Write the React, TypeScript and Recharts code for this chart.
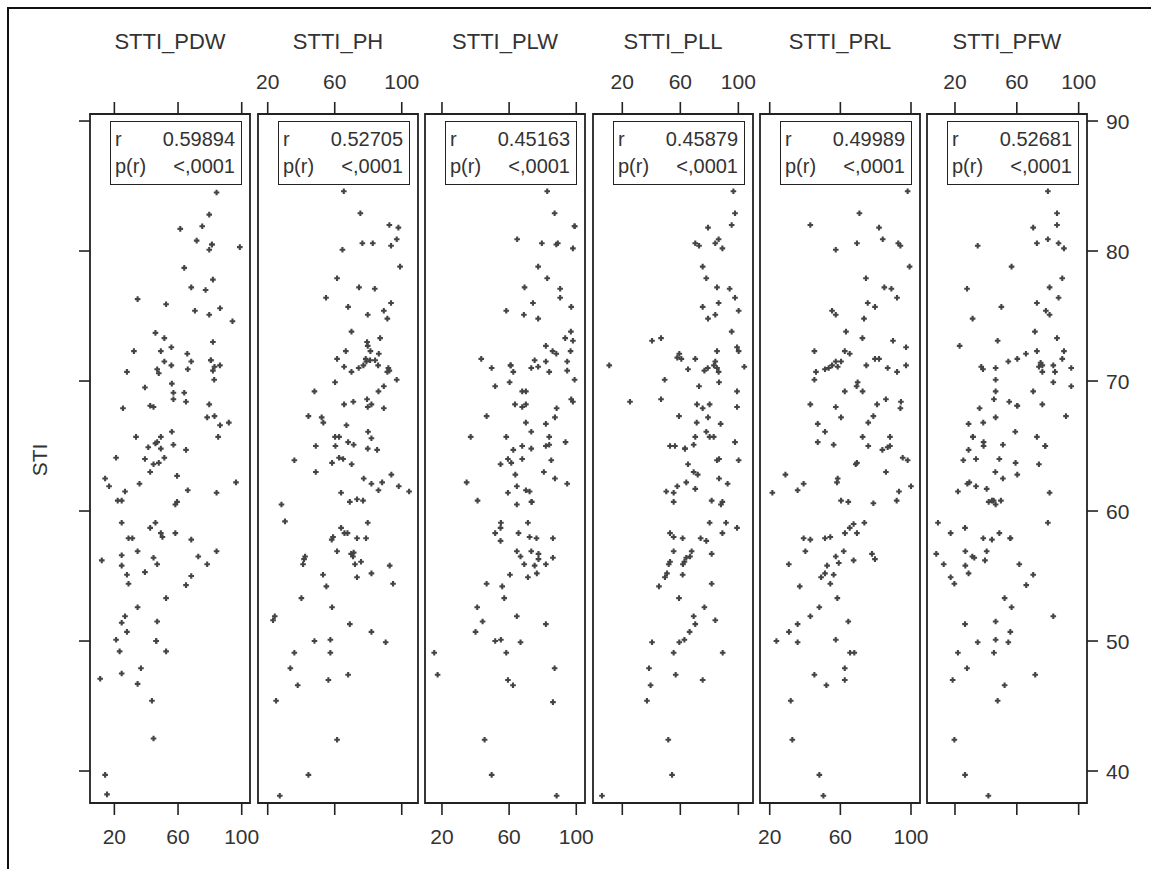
import { ScatterChart, Scatter, XAxis, YAxis, ReferenceArea } from "recharts";

const FONT = '"Liberation Sans", Arial, sans-serif';
const INK = "#222";
const TXT = "#333";

const titles = ["STTI_PDW", "STTI_PH", "STTI_PLW", "STTI_PLL", "STTI_PRL", "STTI_PFW"];
const rValues = ["0.59894", "0.52705", "0.45163", "0.45879", "0.49989", "0.52681"];
const pValues = ["<,0001", "<,0001", "<,0001", "<,0001", "<,0001", "<,0001"];
const xTicks = [20, 60, 100];
const yTicks = [40, 50, 60, 70, 80, 90];
const xDomains: [number, number][] = [
  [4.7, 105.2], [14.2, 109.7], [9.9, 105.2], [-0.2, 110.1], [14.5, 105.1], [1.9, 105.4],
];
const yDomain: [number, number] = [37.54, 90.54];

// [x, STI]
const pdwPts: [number, number][] = [
  [84.2,84.5],[79.6,82.8],[61.4,81.7],[75.2,81.9],[71.7,80.8],[81.3,80.5],[81.3,80.5],[79.6,80.1],[98.8,80.3],[63.9,78.7],
  [81.9,77.8],[68.3,77.2],[77.3,77.0],[34.6,76.3],[52.5,75.9],[70.6,75.4],[79.6,75.1],[86.4,75.6],[94.2,74.6],[45.8,73.7],
  [51.4,73.3],[81.9,73.0],[32.3,72.3],[49.2,72.3],[55.8,72.6],[65.8,72.1],[51.4,71.5],[68.3,71.5],[80.6,71.6],[80.6,71.6],
  [55.8,71.2],[46.9,70.9],[47.9,70.6],[66.1,70.9],[81.9,70.8],[82.9,71.1],[86.3,71.2],[27.9,70.7],[82.7,70.1],[56.1,69.8],
  [39.2,69.5],[57.1,69.1],[63.9,69.1],[57.1,68.6],[65.0,68.4],[25.4,67.9],[42.5,68.1],[44.6,68.0],[79.6,68.2],[78.3,67.2],
  [82.9,67.3],[86.4,66.6],[91.9,66.8],[33.6,65.7],[49.2,65.7],[85.2,65.7],[56.1,66.1],[41.3,64.9],[45.8,65.2],[46.9,65.3],
  [49.2,64.8],[57.1,65.1],[65.0,64.7],[21.1,64.1],[39.2,64.0],[51.4,64.1],[44.6,63.6],[47.9,63.7],[42.5,63.0],[59.4,62.7],
  [14.2,62.5],[16.7,61.9],[35.8,62.1],[96.4,62.2],[26.7,61.5],[66.1,61.6],[84.2,61.4],[22.1,60.8],[24.6,60.8],[58.3,60.5],
  [59.4,60.7],[24.6,59.1],[42.5,58.7],[45.8,59.1],[49.2,58.3],[50.2,58.0],[58.3,58.3],[68.3,57.8],[28.9,57.9],[31.3,57.9],
  [34.6,56.9],[12.1,56.2],[24.6,56.6],[24.6,55.8],[44.6,56.4],[46.9,55.9],[72.7,56.5],[84.2,56.9],[78.3,55.9],[27.9,55.1],
  [28.9,54.4],[39.2,55.3],[68.3,55.0],[65.0,54.3],[52.5,53.3],[34.6,52.6],[26.7,51.9],[24.6,51.4],[27.9,50.7],[46.9,51.5],
  [21.1,50.1],[46.3,50.0],[46.3,50.0],[23.3,49.2],[52.5,49.2],[36.7,47.9],[24.6,47.5],[11.1,47.1],[34.6,46.7],[43.6,45.4],
  [44.6,42.5],[14.2,39.7],[15.4,38.2],
];

const phPts: [number, number][] = [
  [65.4,84.6],[75.3,82.9],[92.6,82.0],[98.0,81.8],[76.5,80.6],[82.7,80.6],[93.6,80.4],[97.0,80.9],[64.6,80.1],[99.0,78.8],
  [61.4,77.9],[74.5,77.2],[83.9,77.1],[54.8,76.4],[68.0,75.7],[93.6,76.0],[89.3,75.4],[79.7,75.1],[91.4,74.8],[70.0,73.8],
  [87.1,73.3],[79.3,73.0],[79.7,72.7],[81.3,72.3],[66.6,72.3],[61.4,71.7],[78.5,71.7],[86.3,72.1],[65.6,71.1],[70.0,70.7],
  [74.3,71.0],[77.1,71.2],[78.9,71.5],[81.1,71.6],[84.1,71.6],[85.9,71.2],[92.0,71.0],[92.6,70.8],[91.4,70.7],[97.0,70.1],
  [60.2,69.9],[47.9,69.2],[86.1,69.2],[89.3,69.6],[79.3,68.6],[81.9,68.2],[79.7,68.0],[71.1,68.4],[65.6,68.2],[89.3,67.9],
  [44.3,67.3],[52.2,67.2],[53.2,66.8],[67.0,66.6],[79.9,66.1],[81.9,65.6],[60.2,65.7],[62.6,65.7],[68.0,65.3],[71.3,65.1],
  [48.7,65.0],[60.4,65.0],[79.7,64.8],[85.3,64.7],[35.9,63.9],[58.4,63.7],[62.6,64.1],[65.0,64.0],[70.1,63.6],[48.7,63.0],
  [93.8,62.8],[77.3,62.5],[81.9,62.1],[88.3,62.2],[86.1,61.6],[98.2,61.9],[104.4,61.5],[63.8,61.4],[69.0,60.7],[73.3,60.9],
  [76.9,60.8],[28.2,60.5],[30.3,59.2],[79.7,59.1],[63.8,58.7],[65.8,58.3],[67.6,58.3],[59.0,58.0],[58.2,57.8],[73.3,57.9],
  [78.7,57.9],[61.4,56.9],[71.3,56.8],[69.8,56.7],[70.9,56.5],[72.1,55.9],[75.7,56.1],[42.3,56.5],[41.7,56.3],[41.1,55.9],
  [81.9,55.2],[92.8,55.8],[73.3,54.9],[53.0,55.1],[94.8,54.4],[55.0,54.2],[40.1,53.3],[58.4,52.6],[24.2,51.9],[23.2,51.6],
  [69.0,51.3],[81.9,50.7],[47.9,50.0],[57.4,50.1],[90.4,49.9],[35.9,49.1],[57.4,49.1],[33.5,47.9],[68.0,47.4],[37.9,46.6],
  [56.2,47.0],[25.0,45.4],[61.4,42.4],[44.3,39.7],[27.2,38.1],
];

const plwPts: [number, number][] = [
  [82.7,84.6],[87.1,82.9],[99.0,81.9],[99.0,81.9],[64.8,80.9],[79.5,80.6],[88.1,80.5],[89.0,80.6],[98.0,80.2],[77.3,78.8],
  [82.7,77.9],[69.2,77.2],[90.4,77.1],[74.2,76.0],[90.4,76.4],[97.0,75.7],[58.3,75.4],[68.8,75.1],[77.3,74.8],[96.8,73.8],
  [93.4,73.3],[98.0,73.1],[96.6,72.3],[81.9,72.7],[85.9,72.3],[88.1,72.1],[43.4,71.7],[49.6,71.0],[60.9,71.2],[60.9,71.2],
  [62.5,70.7],[75.2,71.6],[73.2,71.0],[77.3,71.1],[81.9,71.5],[83.9,70.7],[94.6,71.5],[94.6,70.8],[99.0,70.1],[51.7,69.6],
  [60.3,69.9],[67.8,69.2],[70.0,69.2],[63.5,68.2],[67.8,68.0],[70.0,68.2],[97.0,68.6],[98.0,68.4],[88.3,67.9],[46.6,67.3],
  [70.0,66.8],[73.2,66.1],[81.9,66.7],[87.3,67.2],[37.1,65.7],[58.3,65.7],[83.9,65.7],[62.5,64.7],[67.8,65.0],[73.2,64.8],
  [81.9,65.0],[83.9,65.1],[93.6,65.3],[54.9,63.6],[59.3,64.0],[61.3,63.7],[67.8,64.0],[85.1,63.9],[80.7,63.0],[63.7,62.8],
  [87.3,62.5],[94.6,62.1],[34.7,62.2],[41.2,60.8],[59.3,61.4],[64.6,61.9],[70.0,61.6],[72.2,61.5],[73.4,60.7],[73.4,60.7],
  [64.6,60.5],[55.1,59.1],[54.9,58.7],[51.7,58.3],[54.9,57.7],[65.6,58.3],[71.2,59.1],[72.2,58.0],[76.3,57.9],[86.1,57.9],
  [64.6,56.9],[66.8,56.5],[73.2,56.9],[77.5,56.7],[77.5,56.3],[69.0,55.9],[75.2,55.8],[76.5,55.2],[81.9,55.9],[86.1,56.4],
  [71.2,54.9],[60.5,55.1],[46.6,54.4],[55.9,54.2],[57.1,53.3],[41.0,52.6],[44.2,51.5],[40.0,50.7],[64.6,51.9],[81.9,51.3],
  [51.7,50.0],[55.1,50.1],[66.8,49.9],[58.3,49.1],[15.4,49.1],[17.4,47.4],[59.3,47.0],[62.3,46.6],[87.1,47.9],[86.1,45.3],
  [45.4,42.4],[49.6,39.7],[88.3,38.1],
];

const pllPts: [number, number][] = [
  [96.6,84.6],[97.7,82.9],[79.1,81.8],[95.4,82.0],[70.3,80.6],[72.9,80.4],[84.1,80.6],[86.4,80.9],[89.0,80.2],[75.4,78.8],
  [77.9,77.9],[85.3,77.2],[94.0,77.1],[86.4,76.0],[97.7,76.4],[75.4,75.7],[84.1,75.1],[79.1,74.8],[100.2,75.4],[95.4,73.8],
  [40.5,73.1],[46.7,73.3],[99.1,72.6],[100.2,72.3],[59.3,72.1],[60.7,71.7],[57.9,71.8],[70.3,71.7],[85.3,72.3],[84.1,71.5],
  [83.2,71.2],[85.3,71.0],[86.4,70.7],[78.9,71.0],[76.6,70.8],[65.3,70.9],[104.1,71.1],[11.0,71.2],[49.2,70.1],[86.7,69.9],
  [72.9,69.6],[99.1,69.2],[25.3,68.4],[46.7,68.6],[71.5,68.2],[75.4,67.9],[80.2,68.2],[99.1,68.0],[59.1,67.3],[79.1,67.2],
  [71.3,66.8],[87.8,66.7],[77.9,66.1],[80.2,65.7],[83.0,65.7],[70.3,65.7],[97.7,65.3],[52.9,65.0],[56.3,65.0],[63.2,64.8],
  [63.2,64.8],[69.2,65.1],[65.3,63.6],[72.0,62.8],[69.2,63.0],[85.3,63.9],[86.7,64.0],[100.2,63.9],[86.7,62.5],[92.6,62.1],
  [50.3,61.5],[55.4,61.4],[57.9,61.9],[64.1,62.2],[70.3,61.7],[55.4,60.7],[81.6,60.8],[89.0,60.7],[88.0,60.5],[80.2,59.1],
  [91.5,59.1],[89.0,58.3],[99.1,58.7],[52.9,58.3],[55.4,58.0],[61.6,57.9],[74.0,57.9],[77.9,57.7],[55.4,56.9],[67.8,56.9],
  [62.8,56.1],[52.9,56.1],[52.0,55.9],[61.8,55.9],[64.1,56.4],[66.7,56.5],[81.6,56.7],[50.8,55.2],[49.4,54.9],[61.6,55.1],
  [45.3,54.2],[81.6,54.4],[59.1,53.3],[76.6,52.6],[69.2,51.9],[70.3,51.3],[66.4,50.7],[84.1,51.6],[40.5,49.9],[59.3,49.9],
  [62.8,50.1],[55.4,49.1],[89.2,49.1],[38.4,47.9],[56.8,47.4],[39.5,46.6],[75.4,47.0],[37.0,45.4],[51.7,42.4],[54.3,39.7],
  [6.0,38.1],
];

const prlPts: [number, number][] = [
  [98.1,84.6],[70.8,82.9],[43.0,82.0],[81.9,81.8],[84.0,80.9],[69.4,80.6],[92.8,80.6],[94.0,80.4],[57.4,80.1],[99.2,78.8],
  [74.5,77.9],[84.9,77.2],[88.9,77.1],[92.1,76.4],[75.5,76.0],[79.6,75.7],[55.3,75.4],[57.4,75.1],[73.4,74.8],[63.2,73.8],
  [72.5,73.3],[89.8,73.1],[97.2,72.6],[45.3,72.3],[62.5,72.3],[65.3,72.1],[46.2,70.7],[45.3,70.1],[51.3,70.9],[53.4,71.0],
  [55.3,71.2],[58.5,71.1],[57.4,71.5],[60.4,71.5],[74.7,71.2],[79.6,71.7],[81.9,71.7],[86.8,71.0],[92.1,70.7],[97.2,71.2],
  [69.8,69.9],[69.2,69.6],[72.6,69.2],[62.5,69.2],[85.8,68.6],[43.0,68.2],[57.4,68.0],[80.8,68.2],[78.7,67.3],[94.3,68.4],
  [94.0,67.9],[60.4,67.2],[75.8,66.8],[47.2,66.7],[51.3,66.1],[47.2,65.3],[56.2,65.1],[72.6,65.7],[75.8,65.0],[88.1,65.7],
  [86.8,64.9],[88.1,65.0],[83.8,64.7],[69.4,63.7],[68.7,63.6],[95.3,64.1],[98.1,63.9],[85.8,63.0],[28.9,62.8],[35.8,61.6],
  [39.2,62.1],[58.5,62.5],[58.1,62.2],[21.5,61.4],[60.4,60.8],[64.5,60.7],[78.7,60.6],[91.9,60.8],[93.2,61.5],[100.0,61.9],
  [62.6,58.3],[65.3,58.7],[67.5,59.0],[69.4,58.3],[73.6,59.1],[39.2,57.9],[43.0,57.8],[51.3,57.9],[54.3,58.0],[40.2,56.9],
  [61.9,56.9],[57.4,56.5],[77.9,56.7],[79.6,56.3],[67.5,56.2],[30.8,55.9],[52.5,55.8],[59.1,56.0],[49.1,54.9],[51.3,55.2],
  [56.2,55.1],[54.3,54.4],[37.0,54.2],[58.3,53.3],[48.1,52.6],[43.0,51.9],[64.5,51.5],[35.8,51.3],[30.9,50.7],[23.8,50.0],
  [35.8,49.9],[57.4,50.1],[65.5,49.1],[67.9,49.1],[62.5,47.9],[45.3,47.4],[62.5,47.0],[52.1,46.6],[31.9,45.4],[32.8,42.4],
  [48.1,39.7],[50.4,38.1],
];

const pfwPts: [number, number][] = [
  [80.1,84.6],[86.0,82.9],[86.0,82.0],[70.6,81.8],[80.1,80.9],[73.0,80.6],[87.0,80.6],[90.5,80.2],[34.7,80.4],[56.6,78.8],
  [89.4,77.9],[81.2,77.2],[27.8,77.1],[87.0,76.4],[73.0,76.0],[78.8,75.4],[81.2,75.1],[50.0,75.7],[31.4,74.8],[71.7,73.8],
  [86.0,73.3],[23.0,72.7],[47.6,73.1],[90.5,72.3],[54.5,71.5],[60.3,71.7],[65.9,72.1],[73.0,72.3],[75.4,71.4],[76.5,71.2],
  [74.3,71.1],[83.6,71.2],[84.7,70.7],[89.4,71.7],[95.2,71.0],[37.0,71.1],[38.1,70.9],[46.3,71.0],[46.3,70.1],[76.5,70.7],
  [83.6,69.9],[95.2,69.6],[70.6,69.2],[46.3,69.2],[45.2,68.6],[55.1,68.4],[60.3,68.1],[60.3,68.1],[76.5,68.2],[91.8,67.3],
  [35.9,67.9],[46.3,67.2],[38.3,66.8],[28.8,66.7],[59.0,66.1],[31.6,65.7],[31.6,65.7],[38.5,65.3],[38.5,65.0],[51.0,65.1],
  [78.4,65.0],[78.4,65.0],[73.0,65.7],[28.8,64.7],[25.4,63.9],[33.6,64.0],[48.7,64.0],[59.2,63.7],[74.3,63.6],[46.1,63.0],
  [28.0,62.1],[29.3,62.2],[33.6,61.9],[51.0,62.5],[60.3,62.8],[21.9,61.5],[40.5,61.7],[41.8,60.7],[43.9,60.8],[46.3,60.5],
  [45.0,60.8],[49.7,60.8],[81.2,61.4],[9.0,59.1],[17.2,58.3],[26.5,58.7],[38.3,57.9],[43.9,57.8],[48.7,58.3],[55.8,57.9],
  [55.8,57.9],[80.1,59.1],[7.9,56.7],[12.7,55.9],[26.7,56.9],[31.2,56.5],[32.5,56.4],[28.8,55.2],[26.7,55.8],[40.5,56.9],
  [39.4,56.2],[17.2,54.9],[19.6,54.4],[61.6,55.9],[70.6,55.1],[66.1,54.3],[52.1,53.3],[56.6,52.6],[26.5,51.3],[46.3,51.5],
  [83.6,51.9],[34.7,49.9],[46.3,50.1],[55.8,50.7],[54.5,49.9],[21.9,49.1],[45.2,49.1],[27.8,47.9],[18.5,47.0],[52.1,46.6],
  [71.9,47.4],[47.6,45.4],[19.6,42.4],[26.5,39.7],[41.6,38.1],
];

const panelPts = [pdwPts, phPts, plwPts, pllPts, prlPts, pfwPts];
const panelLeft = [90, 258, 425, 593, 760, 927];
const PW = 160;
const PAD = 50;

// little "+" blob like the SAS marker
const Cross = (p: any) => {
  const { cx, cy } = p;
  if (cx == null || cy == null) return <g />;
  return (
    <path
      d={`M${cx - 2.8},${cy}h5.6M${cx},${cy - 2.8}v5.6`}
      stroke="#444"
      strokeWidth={2.1}
      fill="none"
    />
  );
};

const blank = () => <g />;
const topLabel = (p: any) => (
  <text x={p.x} y={89} textAnchor="middle" fontFamily={FONT} fontSize={21} fill={TXT}>
    {p.payload.value}
  </text>
);
const bottomLabel = (p: any) => (
  <text x={p.x} y={844} textAnchor="middle" fontFamily={FONT} fontSize={21} fill={TXT}>
    {p.payload.value}
  </text>
);
const rightLabel = (p: any) => (
  <text x={p.x} y={p.y + 7.5} textAnchor="start" fontFamily={FONT} fontSize={21} fill={TXT}>
    {p.payload.value}
  </text>
);

function Panel({ idx }: { idx: number }) {
  const [lo, hi] = xDomains[idx];
  const first = idx === 0;
  const last = idx === 5;
  const labelsOnTop = idx % 2 === 1;
  const data = panelPts[idx].map(([x, y]) => ({ x, y }));
  const tl = { stroke: INK, strokeWidth: 1.6 };

  return (
    <div style={{ position: "absolute", left: panelLeft[idx] - PAD, top: 0 }}>
      <ScatterChart
        width={PW + 2 * PAD}
        height={869}
        margin={{ top: 0, bottom: 0, left: first ? 0 : PAD, right: last ? 0 : PAD }}
      >
        <XAxis
          xAxisId="t" orientation="top" type="number" dataKey="x"
          domain={[lo, hi]} ticks={xTicks} interval={0} height={114}
          tickSize={12} axisLine={false} tickLine={tl}
          tick={labelsOnTop ? topLabel : blank} allowDataOverflow
        />
        <XAxis
          xAxisId="b" orientation="bottom" type="number" dataKey="x"
          domain={[lo, hi]} ticks={xTicks} interval={0} height={66}
          tickSize={12} axisLine={false} tickLine={tl}
          tick={labelsOnTop ? blank : bottomLabel} allowDataOverflow
        />
        {first ? (
          <YAxis
            yAxisId="y" orientation="left" type="number" dataKey="y"
            domain={yDomain} ticks={yTicks} interval={0} width={PAD}
            tickSize={11} axisLine={false} tickLine={tl} tick={blank} allowDataOverflow
          />
        ) : last ? (
          <YAxis
            yAxisId="y" orientation="right" type="number" dataKey="y"
            domain={yDomain} ticks={yTicks} interval={0} width={PAD}
            tickSize={11} tickMargin={8} axisLine={false} tickLine={tl}
            tick={rightLabel} allowDataOverflow
          />
        ) : (
          <YAxis yAxisId="y" type="number" dataKey="y" domain={yDomain} hide allowDataOverflow />
        )}
        <ReferenceArea
          xAxisId="b" yAxisId="y" x1={lo} x2={hi} y1={yDomain[0]} y2={yDomain[1]}
          fill="none" stroke={INK} strokeWidth={1.8} ifOverflow="visible"
        />
        <Scatter
          xAxisId="b" yAxisId="y" data={data} shape={Cross}
          isAnimationActive={false}
        />
      </ScatterChart>
    </div>
  );
}

export default function App() {
  return (
    <div
      style={{
        position: "absolute", left: 0, top: 0, width: 1151, height: 869,
        overflow: "hidden", background: "#fff", fontFamily: FONT, color: TXT,
      }}
    >
      <div
        style={{
          position: "absolute", left: 7, top: 7, width: 1300, height: 1000,
          border: "2px solid #111",
        }}
      />
      {titles.map((t, i) => (
        <div
          key={t}
          style={{
            position: "absolute", left: panelLeft[i] - 10, top: 29, width: PW + 20,
            textAlign: "center", fontSize: 22, lineHeight: "26px",
          }}
        >
          {t}
        </div>
      ))}
      <div
        style={{
          position: "absolute", left: 40, top: 460, fontSize: 21, lineHeight: "26px",
          transform: "translate(-50%, -50%) rotate(-90deg)",
        }}
      >
        STI
      </div>
      {panelPts.map((_, i) => (
        <Panel key={i} idx={i} />
      ))}
      {rValues.map((r, i) => (
        <div
          key={i}
          style={{
            position: "absolute", left: panelLeft[i] + 20, top: 121, width: 132, height: 64,
            boxSizing: "border-box", border: "1.6px solid " + INK, background: "#fff",
            fontSize: 20, lineHeight: "27px", padding: "4px 6px 0 4px",
          }}
        >
          <div style={{ display: "flex", justifyContent: "space-between" }}>
            <span>r</span>
            <span>{r}</span>
          </div>
          <div style={{ display: "flex", justifyContent: "space-between" }}>
            <span>p(r)</span>
            <span>{pValues[i]}</span>
          </div>
        </div>
      ))}
    </div>
  );
}
